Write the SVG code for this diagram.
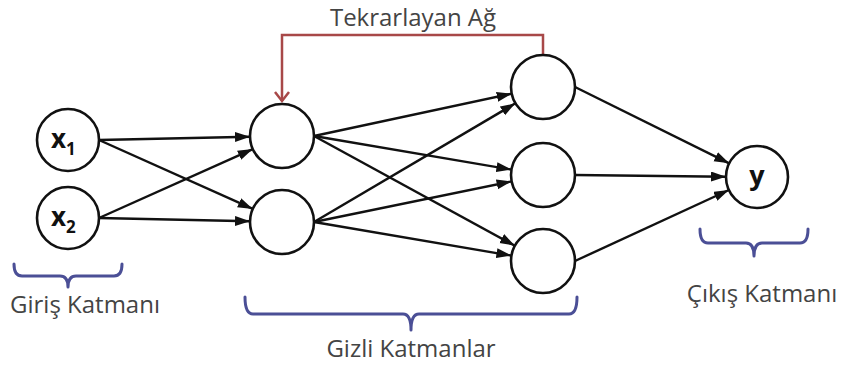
<svg xmlns="http://www.w3.org/2000/svg" width="845" height="367" viewBox="0 0 845 367">
<style>
.node{fill:#fff;stroke:#111;stroke-width:2.6}
.edge{stroke:#111;stroke-width:2.4;fill:none;marker-end:url(#arr)}
.brace{fill:none;stroke:#4b4f96;stroke-width:3;stroke-linecap:round;stroke-linejoin:round}
.lbl{font-family:"Open Sans","Noto Sans",sans-serif;font-size:24px;fill:#444;text-anchor:middle}
.nl{font-family:"Open Sans","Noto Sans",sans-serif;font-weight:bold;fill:#111}
</style>
<defs>
<marker id="arr" markerUnits="userSpaceOnUse" markerWidth="16" markerHeight="12" refX="15" refY="5" orient="auto">
<path d="M0,0 L15,5 L0,10 z" fill="#111"/>
</marker>
<marker id="rarr" markerUnits="userSpaceOnUse" markerWidth="20" markerHeight="20" refX="10" refY="10" orient="auto">
<path d="M1,3 L10,10 L1,17" fill="none" stroke="#a84848" stroke-width="2.5"/>
</marker>
</defs>
<g id="connectors">
<line class="edge" x1="99" y1="140" x2="250" y2="136.7"/>
<line class="edge" x1="99" y1="140" x2="252.8" y2="208.9"/>
<line class="edge" x1="99" y1="218" x2="252.8" y2="149.1"/>
<line class="edge" x1="99" y1="218" x2="250" y2="221.3"/>
<line class="edge" x1="314" y1="136" x2="511.7" y2="93.7"/>
<line class="edge" x1="314" y1="136" x2="511.4" y2="169.6"/>
<line class="edge" x1="314" y1="136" x2="514.9" y2="245.7"/>
<line class="edge" x1="314" y1="222" x2="515.4" y2="103.3"/>
<line class="edge" x1="314" y1="222" x2="511.6" y2="181.4"/>
<line class="edge" x1="314" y1="222" x2="511.4" y2="255.6"/>
<line class="edge" x1="575" y1="87" x2="729.2" y2="163.3"/>
<line class="edge" x1="575" y1="175" x2="726" y2="176.7"/>
<line class="edge" x1="575" y1="261" x2="728.9" y2="190"/>
<path id="recurrent" d="M543,55 L543,35 L282,35 L282,101" fill="none" stroke="#a84848" stroke-width="2.5" marker-end="url(#rarr)"/>
</g>
<g id="x1"><circle class="node" cx="68" cy="140" r="31"/><text class="nl" x="51" y="148" font-size="26">x<tspan font-size="17" dy="7">1</tspan></text></g>
<g id="x2"><circle class="node" cx="68" cy="218" r="31"/><text class="nl" x="51" y="226" font-size="26">x<tspan font-size="17" dy="7">2</tspan></text></g>
<g id="h1a"><circle class="node" cx="282" cy="136" r="32"/></g>
<g id="h1b"><circle class="node" cx="282" cy="222" r="32"/></g>
<g id="h2a"><circle class="node" cx="543" cy="87" r="32"/></g>
<g id="h2b"><circle class="node" cx="543" cy="175" r="32"/></g>
<g id="h2c"><circle class="node" cx="543" cy="261" r="32"/></g>
<g id="y"><circle class="node" cx="757" cy="177" r="31"/><text class="nl" x="757" y="185" font-size="27" text-anchor="middle">y</text></g>
<g id="labels">
<text class="lbl" x="413" y="26">Tekrarlayan Ağ</text>
<path class="brace" d="M14,264 Q14,276 22,276 L60,276 Q68,276 68,287 Q68,276 76,276 L114,276 Q122,276 122,264"/>
<text class="lbl" x="85" y="313">Giriş Katmanı</text>
<path class="brace" d="M245,297 Q245,314 253,314 L403,314 Q411,314 411,330 Q411,314 419,314 L569,314 Q577,314 577,297"/>
<text class="lbl" x="411" y="357">Gizli Katmanlar</text>
<path class="brace" d="M700,229 Q700,243 708,243 L746,243 Q754,243 754,256 Q754,243 762,243 L800,243 Q808,243 808,229"/>
<text class="lbl" x="762" y="302">Çıkış Katmanı</text>
</g>
</svg>
